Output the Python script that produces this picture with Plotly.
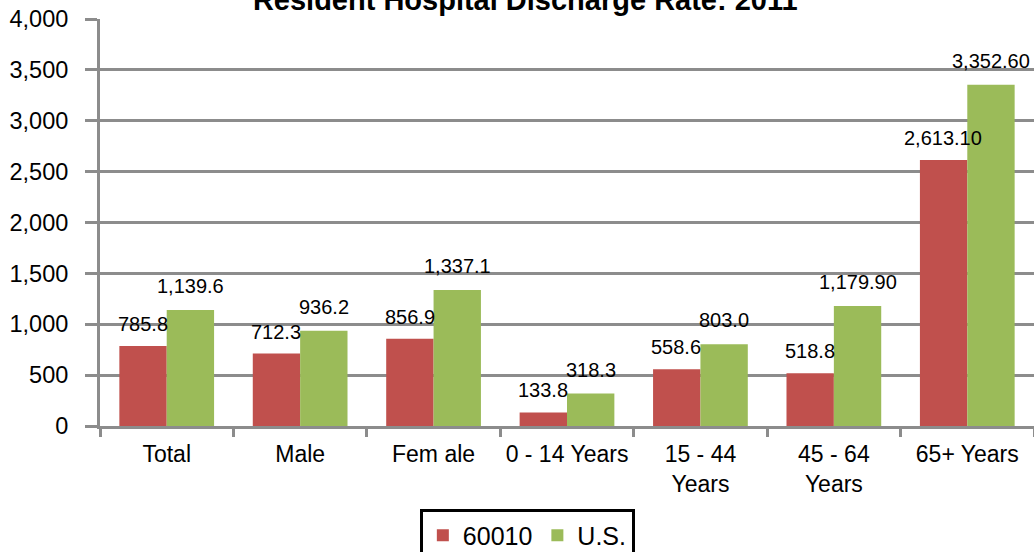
import plotly.graph_objects as go

categories = ["Total", "Male", "Fem ale", "0 - 14 Years", "15 - 44<br>Years", "45 - 64<br>Years", "65+ Years"]
local_vals = [785.8, 712.3, 856.9, 133.8, 558.6, 518.8, 2613.1]
us_vals = [1139.6, 936.2, 1337.1, 318.3, 803.0, 1179.9, 3352.6]
local_labels = ["785.8", "712.3", "856.9", "133.8", "558.6", "518.8", "2,613.10"]
us_labels = ["1,139.6", "936.2", "1,337.1", "318.3", "803.0", "1,179.90", "3,352.60"]
series_names = ["60010", "U.S."]
title_text = "Resident Hospital Discharge Rate: 2011"

RED = "#C0504D"
GREEN = "#9BBB59"
GRID = "#8C8C8C"
FONT = "Liberation Sans, Arial, sans-serif"

fig = go.Figure()
fig.add_trace(go.Bar(x=categories, y=local_vals, name=series_names[0],
                     marker=dict(color=RED, line=dict(width=0))))
fig.add_trace(go.Bar(x=categories, y=us_vals, name=series_names[1],
                     marker=dict(color=GREEN, line=dict(width=0))))

for i, c in enumerate(categories):
    fig.add_annotation(x=c, y=local_vals[i], text=local_labels[i], showarrow=False,
                       xshift=-24, yshift=22, font=dict(family=FONT, size=20, color="#000"))
    fig.add_annotation(x=c, y=us_vals[i], text=us_labels[i], showarrow=False,
                       xshift=24, yshift=24, font=dict(family=FONT, size=20, color="#000"))

fig.update_layout(
    width=1034, height=552,
    margin=dict(l=100, r=0, t=19, b=126),
    paper_bgcolor="white", plot_bgcolor="white",
    barmode="group", bargap=0.29, bargroupgap=0,
    font=dict(family=FONT, size=23, color="#000"),
    title=dict(text="<b>" + title_text + "</b>", x=0.508, xanchor="center",
               y=1.0, yref="container", yanchor="middle", pad=dict(t=0),
               font=dict(family=FONT, size=29, color="#000")),
    legend=dict(orientation="h", xref="container", x=0.51, xanchor="center",
                yref="container", y=0.077, yanchor="top",
                bordercolor="#000", borderwidth=3,
                font=dict(family=FONT, size=25), itemwidth=30,
                traceorder="normal"),
    showlegend=True,
)
fig.update_yaxes(range=[0, 4000], dtick=500, tickformat=",",
                 showgrid=True, gridcolor=GRID, gridwidth=3,
                 showline=True, linecolor=GRID, linewidth=3,
                 ticks="outside", ticklen=12, tickwidth=3, tickcolor=GRID,
                 zeroline=False, tickfont=dict(size=23.5), ticklabelstandoff=12,
                 automargin=False)
fig.update_xaxes(showline=True, linecolor=GRID, linewidth=3,
                 ticks="outside", tickson="boundaries", ticklen=8, tickwidth=3, tickcolor=GRID,
                 tickfont=dict(size=23), showgrid=False, ticklabelstandoff=5,
                 tickangle=0, automargin=False)

fig.write_html("out.html", config={"displayModeBar": False},
               post_script="document.body.style.margin='0';document.body.style.overflow='hidden';")
